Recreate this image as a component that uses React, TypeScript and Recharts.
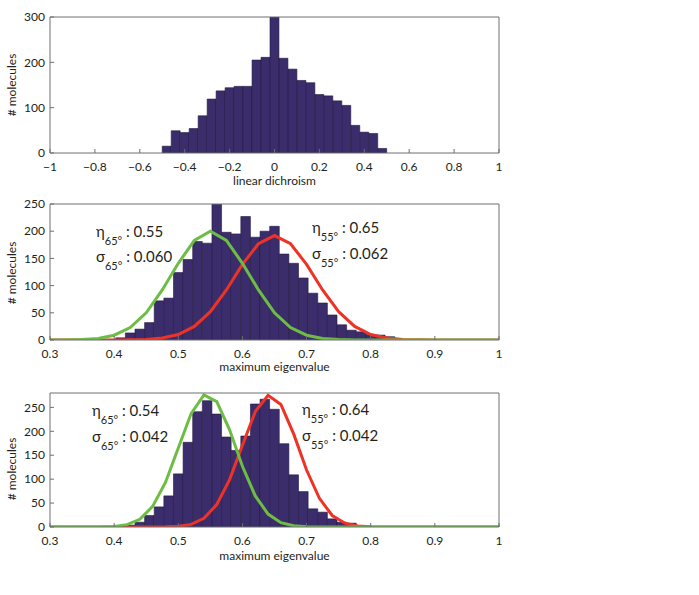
import { ComposedChart, Bar, Line, XAxis, YAxis } from 'recharts';

// panel 1: linear dichroism histogram
const ldBins = [-0.48, -0.44, -0.4, -0.36, -0.32, -0.28, -0.24, -0.2, -0.16, -0.12, -0.08, -0.04, 0,
  0.04, 0.08, 0.12, 0.16, 0.2, 0.24, 0.28, 0.32, 0.36, 0.4, 0.44, 0.48];
const ldCounts = [15, 49, 45, 54, 82, 119, 137, 144, 147, 147, 205, 211, 300,
  209, 185, 160, 155, 129, 126, 115, 105, 61, 46, 43, 10];

// panels 2 and 3: maximum eigenvalue histograms
const eigBins = [0.41, 0.425, 0.44, 0.455, 0.47, 0.485, 0.5, 0.515, 0.53, 0.545, 0.56, 0.575, 0.59,
  0.605, 0.62, 0.635, 0.65, 0.665, 0.68, 0.695, 0.71, 0.725, 0.74, 0.755, 0.77, 0.785, 0.8, 0.815, 0.83];
const eigCountsA = [4, 13, 20, 32, 72, 77, 124, 148, 181, 178, 262, 198, 195, 227, 189, 200, 209,
  158, 141, 114, 86, 68, 46, 28, 18, 15, 10, 9, 6];
const eigCountsB = [2, 4, 10, 24, 42, 65, 111, 177, 241, 264, 236, 188, 160, 190, 257, 267, 246,
  174, 109, 74, 38, 31, 17, 10, 8];

// fitted curves, panel 2
const fitXA = [0.3, 0.325, 0.35, 0.375, 0.4, 0.425, 0.45, 0.475, 0.5, 0.525, 0.55, 0.575, 0.6, 0.625,
  0.65, 0.675, 0.7, 0.725, 0.75, 0.775, 0.8, 0.825, 0.85, 0.875, 0.9, 0.925, 0.95, 0.975, 1];
const fit65A = [0, 0.2, 0.8, 2.9, 8.8, 23, 50, 92, 141, 183, 200, 183, 141, 92, 50, 23, 8.8, 2.9, 0.8,
  0.2, 0, 0, 0, 0, 0, 0, 0, 0, 0];
const fit55A = [0, 0, 0, 0, 0.1, 0.3, 1.1, 3.6, 10, 25, 52, 92, 139, 177, 192, 177, 139, 92, 52, 25,
  10, 3.6, 1.1, 0.3, 0.1, 0, 0, 0, 0];

// fitted curves, panel 3
const fitXB = [0.3, 0.32, 0.34, 0.36, 0.38, 0.4, 0.42, 0.44, 0.46, 0.48, 0.5, 0.52, 0.54, 0.56, 0.58,
  0.6, 0.62, 0.64, 0.66, 0.68, 0.7, 0.72, 0.74, 0.76, 0.78, 0.8, 0.82, 0.84, 0.86, 0.88, 0.9, 0.92,
  0.94, 0.96, 0.98, 1];
const fit65B = [0, 0, 0, 0, 0.3, 1.2, 4.9, 16, 43, 93, 165, 237, 276, 262, 203, 127, 65, 27, 9, 2.5,
  0.6, 0.1, 0, 0, 0, 0, 0, 0, 0, 0, 0, 0, 0, 0, 0, 0];
const fit55B = [0, 0, 0, 0, 0, 0, 0, 0, 0.05, 0.3, 1.4, 5.5, 18, 47, 99, 171, 241, 275, 256, 194, 119,
  60, 24, 8, 2.2, 0.5, 0.1, 0, 0, 0, 0, 0, 0, 0, 0, 0];

const ldTicks = [-1, -0.8, -0.6, -0.4, -0.2, 0, 0.2, 0.4, 0.6, 0.8, 1];
const eigTicks = [0.3, 0.4, 0.5, 0.6, 0.7, 0.8, 0.9, 1];

const W = 699;
const H = 595;
const LEFT = 50;
const RIGHT = 499;
const FONT = 'Lato, "Noto Sans", sans-serif';
const INK = '#231f20';
const AXIS = '#6d6e71';
const GREEN = '#6dbd45';
const RED = '#ec3326';

const fmt = (v: number) => (v < 0 ? '\u2212' + Math.abs(v) : String(v));

type Curve = { xs: number[]; ys: number[]; color: string };

function Stat({ x, y, sym, sub, val }: { x: number; y: number; sym: string; sub: string; val: string }) {
  return (
    <text x={x} y={y} fontSize={15} fill={INK} fontFamily={FONT}>
      {sym}
      <tspan dy={8} fontSize={11}>{sub + '\u00b0'}</tspan>
      <tspan dy={-8}>{' : ' + val}</tspan>
    </text>
  );
}

function Panel(props: {
  top: number;
  bottom: number;
  bins: number[];
  counts: number[];
  binWidth: number;
  xDomain: [number, number];
  xTicks: number[];
  yDomain: [number, number];
  yTicks: number[];
  tickMargin: number;
  curves: Curve[];
  xLabel: string;
  xLabelY: number;
  yLabelY: number;
  children?: any;
}) {
  const { top, bottom, bins, counts, binWidth, xDomain, xTicks, yDomain, yTicks, curves } = props;
  const data = counts.map((c, i) => ({ x: bins[i], count: c }));
  const plotW = RIGHT - LEFT;
  // a hair under the bin width so recharts doesn't shrink the bars
  const barSize = (plotW * binWidth) / (xDomain[1] - xDomain[0]) - 0.05;
  const tickStyle = { fontSize: 12, fill: INK, fontFamily: FONT };
  return (
    <div style={{ position: 'absolute', left: 0, top: 0 }}>
      <ComposedChart width={W} height={H} data={data}
        margin={{ top: top - 1, bottom: H - bottom - 1, left: LEFT - 1, right: W - RIGHT - 1 }}>
        <XAxis xAxisId="b" type="number" dataKey="x" domain={xDomain} ticks={xTicks} interval={0}
          height={1} tickSize={-4} tickMargin={props.tickMargin} stroke={AXIS} tick={tickStyle}
          tickFormatter={fmt} allowDataOverflow />
        <XAxis xAxisId="t" orientation="top" type="number" dataKey="x" domain={xDomain} ticks={xTicks}
          interval={0} height={1} tickSize={-4} stroke={AXIS} tick={false} allowDataOverflow />
        <YAxis yAxisId="l" type="number" domain={yDomain} ticks={yTicks} interval={0} width={1}
          tickSize={-4} tickMargin={9} stroke={AXIS} tick={tickStyle} allowDataOverflow />
        <YAxis yAxisId="r" orientation="right" type="number" domain={yDomain} ticks={yTicks} interval={0}
          width={1} tickSize={-4} stroke={AXIS} tick={false} allowDataOverflow />
        <Bar xAxisId="b" yAxisId="l" dataKey="count" fill="#3b2d6c" stroke="#22173f" strokeWidth={0.6}
          barSize={barSize} isAnimationActive={false} />
        {curves.map((c, i) => (
          <Line key={i} xAxisId="t" yAxisId="l" data={c.xs.map((x, j) => ({ x, y: c.ys[j] }))} dataKey="y"
            type="linear" stroke={c.color} strokeWidth={3} dot={false} isAnimationActive={false} />
        ))}
        <text x={(LEFT + RIGHT) / 2} y={props.xLabelY} textAnchor="middle" fontSize={12} fill={INK} fontFamily={FONT}>
          {props.xLabel}
        </text>
        <text x={16} y={props.yLabelY} textAnchor="middle" fontSize={12} fill={INK} fontFamily={FONT}
          transform={`rotate(-90 16 ${props.yLabelY})`}>
          # molecules
        </text>
        {props.children}
      </ComposedChart>
    </div>
  );
}

export default function App() {
  return (
    <div style={{ position: 'absolute', left: 0, top: 0, width: W, height: H, background: '#fff' }}>
      <Panel top={17} bottom={153} bins={ldBins} counts={ldCounts} binWidth={0.04} xDomain={[-1, 1]}
        xTicks={ldTicks} yDomain={[0, 300]} yTicks={[0, 100, 200, 300]} tickMargin={13} curves={[]}
        xLabel="linear dichroism" xLabelY={185} yLabelY={85} />
      <Panel top={204} bottom={340} bins={eigBins} counts={eigCountsA} binWidth={0.015} xDomain={[0.3, 1]}
        xTicks={eigTicks} yDomain={[0, 250]} yTicks={[0, 50, 100, 150, 200, 250]} tickMargin={13}
        curves={[{ xs: fitXA, ys: fit55A, color: RED }, { xs: fitXA, ys: fit65A, color: GREEN }]}
        xLabel="maximum eigenvalue" xLabelY={371} yLabelY={273}>
        <Stat x={96} y={237} sym={'\u03b7'} sub="65" val="0.55" />
        <Stat x={96} y={262} sym={'\u03c3'} sub="65" val="0.060" />
        <Stat x={312} y={233} sym={'\u03b7'} sub="55" val="0.65" />
        <Stat x={312} y={259} sym={'\u03c3'} sub="55" val="0.062" />
      </Panel>
      <Panel top={393} bottom={527} bins={eigBins} counts={eigCountsB} binWidth={0.015} xDomain={[0.3, 1]}
        xTicks={eigTicks} yDomain={[0, 280]} yTicks={[0, 50, 100, 150, 200, 250]} tickMargin={13}
        curves={[{ xs: fitXB, ys: fit55B, color: RED }, { xs: fitXB, ys: fit65B, color: GREEN }]}
        xLabel="maximum eigenvalue" xLabelY={560} yLabelY={469}>
        <Stat x={92} y={416} sym={'\u03b7'} sub="65" val="0.54" />
        <Stat x={92} y={442} sym={'\u03c3'} sub="65" val="0.042" />
        <Stat x={302} y={415} sym={'\u03b7'} sub="55" val="0.64" />
        <Stat x={302} y={441} sym={'\u03c3'} sub="55" val="0.042" />
      </Panel>
    </div>
  );
}
